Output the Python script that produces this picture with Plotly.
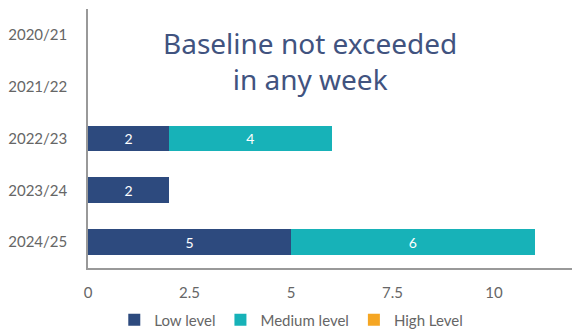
import plotly.graph_objects as go

seasons = ["2020/21", "2021/22", "2022/23", "2023/24", "2024/25"]
low_level = [None, None, 2, 2, 5]
medium_level = [None, None, 4, None, 6]
high_level = [None, None, None, None, None]

x_ticks = [0, 2.5, 5, 7.5, 10]
x_tick_labels = ["0", "2.5", "5", "7.5", "10"]

note_text = "Baseline not exceeded<br>in any week"

fig = go.Figure()

series = [
    ("Low level", low_level, "#2d4a7e"),
    ("Medium level", medium_level, "#17b2b8"),
    ("High Level", high_level, "#f5a623"),
]
for name, vals, color in series:
    fig.add_trace(go.Bar(
        y=seasons, x=vals, name=name, orientation="h",
        marker=dict(color=color, line=dict(width=0)),
        text=[str(v) if v is not None else "" for v in vals],
        textposition="inside", insidetextanchor="middle",
        textfont=dict(color="white", size=14, family="Lato"),
        width=0.5,
    ))

fig.add_annotation(
    text=note_text, x=0.459, y=0.95, xref="paper", yref="paper",
    xanchor="center", yanchor="top",
    showarrow=False, font=dict(size=28, color="#41537f", family="Noto Sans"),
    align="center",
)

fig.update_layout(
    barmode="stack",
    width=574, height=330,
    margin=dict(l=88, r=2, t=9, b=62, autoexpand=False),
    paper_bgcolor="white", plot_bgcolor="white",
    font=dict(family="Lato", color="#666666", size=15),
    showlegend=True,
    legend=dict(orientation="h", x=0.42, xanchor="center",
                yref="container", y=0.03, yanchor="middle",
                font=dict(size=15, color="#666666"), traceorder="normal",
                itemwidth=30),
    xaxis=dict(range=[0, 11.92], tickvals=x_ticks, ticktext=x_tick_labels,
               showgrid=False, zeroline=False, showline=True, linecolor="#999999",
               linewidth=1.5, ticks="outside", ticklen=10, tickcolor="rgba(0,0,0,0)"),
    yaxis=dict(categoryorder="array", categoryarray=seasons, autorange="reversed",
               showgrid=False, showline=True, linecolor="#999999", linewidth=1.5,
               ticks="outside", ticklen=16, tickcolor="rgba(0,0,0,0)"),
)

fig.write_html("out.html")
